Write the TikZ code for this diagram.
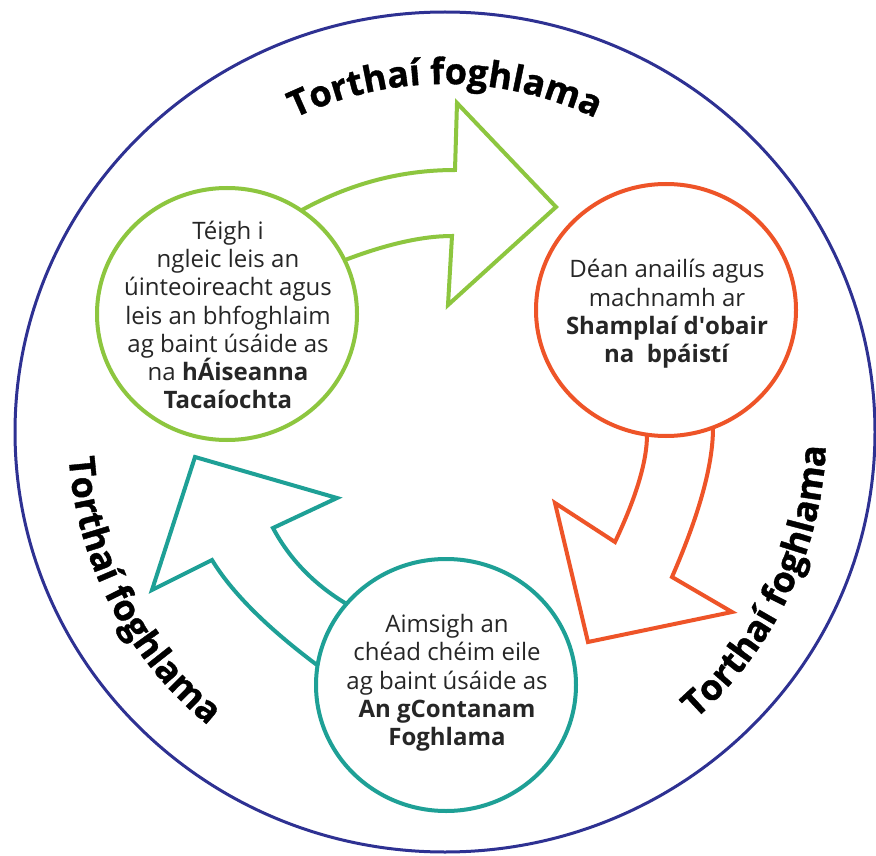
\documentclass[tikz,border=0pt]{standalone}
\usepackage{fontspec}
\setmainfont{Open Sans}
\newfontfamily\lblfamily{Open Sans}[BoldFeatures={FakeBold=1}]
\usetikzlibrary{shapes.geometric,decorations.text}
\definecolor{navyline}{RGB}{46,49,146}
\definecolor{lgreen}{RGB}{141,198,63}
\definecolor{orng}{RGB}{238,84,40}
\definecolor{tealc}{RGB}{30,160,150}
\newcommand{\lblstyle}{\lblfamily\bfseries\fontsize{36}{40}\selectfont}
\begin{document}
\begin{tikzpicture}[x=1pt,y=-1pt,
  arrowline/.style={line width=4pt, line join=miter, miter limit=10},
  ringnode/.style={ellipse, line width=4pt, minimum width=260pt, minimum height=252pt, inner sep=0pt},
  txt/.style={align=center, font=\fontsize{24}{28.3}\selectfont, text=black!85},
  lbl/.style={decorate, decoration={text along path, text={|\lblstyle|Torthaí foghlama}, text align=center}}]
\useasboundingbox (0,0) rectangle (876,856);
\fill[white] (0,0) rectangle (876,856);
% outer ring
\draw[navyline, line width=3pt] (445,432) ellipse [x radius=430, y radius=420];
% circles
\node[ringnode, draw=lgreen] (G) at (227,314) {};
\node[ringnode, draw=orng] (O) at (666,310) {};
\node[ringnode, draw=tealc] (T) at (446,685) {};
\node[txt] (Gt) at (228,315) {Téigh i\\ngleic leis an\\úinteoireacht agus\\leis an bhfoghlaim\\ag baint úsáide as\\na \textbf{hÁiseanna}\\\textbf{Tacaíochta}};
\node[txt] (Ot) at (667,314) {Déan anailís agus\\machnamh ar\\\textbf{Shamplaí d\textquotesingle obair}\\\textbf{na\ \ bpáistí}};
\node[txt] (Tt) at (447,683) {Aimsigh an\\chéad chéim eile\\ag baint úsáide as\\\textbf{An gContanam}\\\textbf{Foghlama}};
% arrows
\draw[lgreen, arrowline] (302,210) .. controls (350.7,183.3) and (401.7,170) .. (455,170) -- (457,103) -- (556,207) -- (448,305) -- (452,236) .. controls (422.7,236) and (387,244) .. (345,260);
\draw[orng, arrowline] (647,435) .. controls (647,461) and (636.3,497) .. (615,542) -- (555,503) -- (588,642) -- (732,612) -- (672,577) .. controls (699.3,514.3) and (713,464.7) .. (713,428);
\draw[tealc, arrowline] (345,603) .. controls (313.4,583.7) and (289.4,558.7) .. (273,528) -- (337,498) -- (195,457) -- (152,590) -- (212,560) .. controls (231.7,592.3) and (266.7,627.3) .. (317,665);
% curved labels
\path[lbl] (445,432) ++(-130:348) arc[start angle=-130, end angle=-50, radius=348];
\path[lbl] (445,432) ++(-170:377) arc[start angle=-170, end angle=-245, radius=377];
\path[lbl] (445,432) ++(63:381) arc[start angle=63, end angle=-12, radius=381];
\end{tikzpicture}
\end{document}
